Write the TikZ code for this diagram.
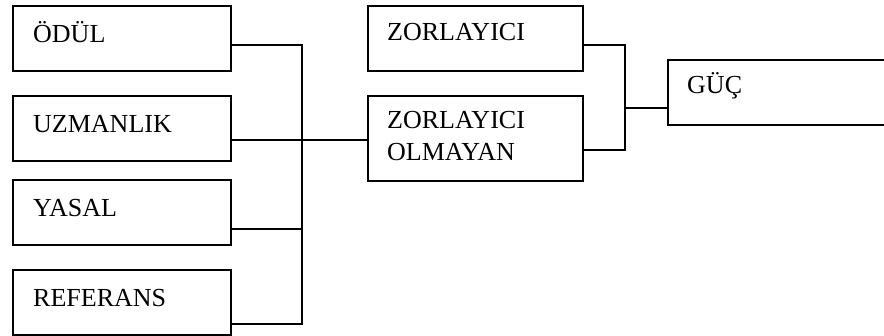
\documentclass[tikz,border=0pt]{standalone}
\usepackage{fontspec}
\setmainfont{Liberation Serif}
\usetikzlibrary{calc}
\begin{document}
\begin{tikzpicture}[x=1pt,y=-1pt,
  box/.style={draw,line width=1.8pt,minimum width=218pt,minimum height=65pt,inner sep=0pt,anchor=north west},
  lbl/.style={anchor=base west,inner sep=0pt,font=\fontsize{26}{32}\selectfont,align=left},
  wire/.style={line width=1.8pt}]
\clip (0,0) rectangle (884,335);
% left column: the four power sources
\node[box] (odul) at (12,5) {};
\node[box] (uzmanlik) at (12,95) {};
\node[box] (yasal) at (12,179) {};
\node[box] (referans) at (12,269) {};
\node[lbl] (odulT) at ($(odul.north west)+(21,37)$) {ÖDÜL};
\node[lbl] (uzmanlikT) at ($(uzmanlik.north west)+(21,37)$) {UZMANLIK};
\node[lbl] (yasalT) at ($(yasal.north west)+(21,37)$) {YASAL};
\node[lbl] (referansT) at ($(referans.north west)+(21,37)$) {REFERANS};
% middle column
\node[box,minimum width=215pt] (zor) at (367,5) {};
\node[box,minimum width=215pt,minimum height=85pt] (olmayan) at (367,95) {};
\node[lbl] (zorT) at ($(zor.north west)+(20,35)$) {ZORLAYICI};
\node[lbl] (olmayanT) at ($(olmayan.north west)+(20,65)$) {ZORLAYICI\\OLMAYAN};
% right box
\node[box,minimum width=240pt] (guc) at (667,59) {};
\node[lbl] (gucT) at ($(guc.north west)+(20,34)$) {GÜÇ};
% bus joining the left column
\coordinate (busT) at (302,45);
\coordinate (busB) at (302,324);
\coordinate (busY) at (302,229);
\coordinate (olmIn) at (367,140);
\draw[wire] (odul.east |- busT) -- (busT) -- (busB) -- (referans.east |- busB);
\draw[wire] (yasal.east |- busY) -- (busY);
\draw[wire] (uzmanlik.east |- olmIn) -- (olmayan.west |- olmIn);
% bus joining the middle column
\coordinate (bus2T) at (625,45);
\coordinate (bus2B) at (625,150);
\coordinate (bus2M) at (625,108);
\draw[wire] (zor.east |- bus2T) -- (bus2T) -- (bus2B) -- (olmayan.east |- bus2B);
\draw[wire] (bus2M) -- (guc.west |- bus2M);
\end{tikzpicture}
\end{document}
